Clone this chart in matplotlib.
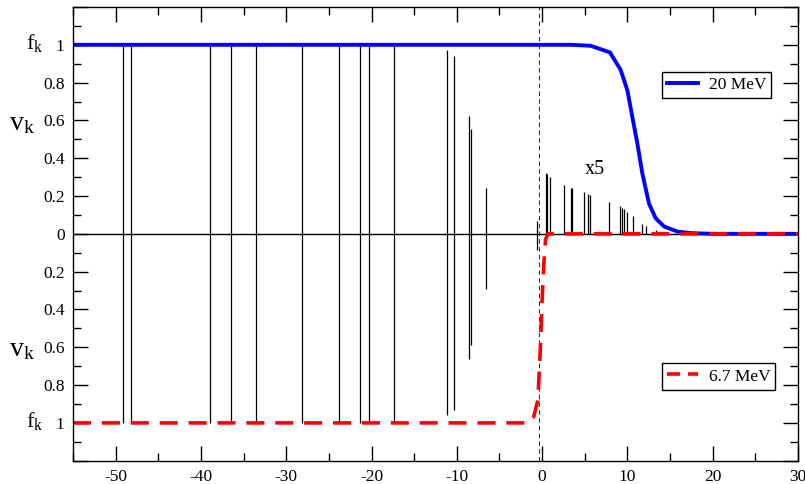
import matplotlib
matplotlib.use("Agg")
import matplotlib.pyplot as plt
from matplotlib.ticker import MultipleLocator, FuncFormatter
from matplotlib.lines import Line2D

plt.rcParams["font.family"] = ["Liberation Serif", "DejaVu Serif"]
plt.rcParams["mathtext.fontset"] = "stix"
plt.rcParams["axes.unicode_minus"] = False

# single-particle energies (MeV) of the bound levels
e_levels = [-49.1, -48.2, -38.96, -36.42, -33.52, -28.2, -23.78, -21.31, -20.26,
            -17.32, -11.14, -10.32, -8.56, -8.32, -6.61, -0.62]
# v_k for 20 MeV (plotted upward)
vk_20 = [1.0, 1.0, 1.0, 1.0, 1.0, 1.0, 1.0, 1.0, 1.0,
         1.0, 0.97, 0.94, 0.626, 0.555, 0.242, 0.07]
# v_k for 6.7 MeV (plotted downward)
vk_67 = [1.0, 1.0, 1.0, 1.0, 1.0, 1.0, 1.0, 1.0, 1.0,
         1.0, 0.96, 0.93, 0.66, 0.59, 0.29, 0.085]

# continuum levels (x5 scaled), 20 MeV
e_cont = [0.40, 0.52, 0.90, 2.59, 3.42, 3.53, 4.86, 5.33, 5.60, 7.83,
          9.17, 9.40, 9.59, 9.99, 10.61, 11.67, 12.14, 13.31, 13.51]
vk_cont = [0.32, 0.315, 0.30, 0.26, 0.24, 0.24, 0.22, 0.21, 0.207, 0.17,
           0.145, 0.136, 0.13, 0.118, 0.095, 0.053, 0.039, 0.018, 0.012]

# occupation f_k, 20 MeV
fk20_x = [-55, 3.33, 5.68, 7.95, 9.2, 9.99, 10.57, 11.16, 11.75, 12.53,
          13.31, 14.29, 15.86, 17.4, 20, 30]
fk20_y = [1.0, 1.0, 0.995, 0.96, 0.868, 0.76, 0.62, 0.48, 0.32, 0.16,
          0.083, 0.039, 0.012, 0.004, 0.0, 0.0]

# occupation f_k, 6.7 MeV (plotted downward)
fk67_x = [-55, -1.6, -1.0, -0.5, -0.2, 0.0, 0.2, 0.4, 0.7, 30]
fk67_y = [1.0, 1.0, 0.97, 0.88, 0.6, 0.35, 0.16, 0.03, 0.0, 0.0]

e_fermi = -0.35

fig = plt.figure(figsize=(8.05, 4.84), dpi=100)
ax = fig.add_axes([73 / 805, 1 - 460.7 / 484, 725 / 805, 453.7 / 484])

ax.vlines(e_levels, 0, vk_20, color="k", lw=0.9)
ax.vlines(e_levels, [-v for v in vk_67], 0, color="k", lw=0.9)
ax.vlines(e_cont, 0, vk_cont, color="k", lw=0.9)
ax.axhline(0, color="k", lw=1.0)
ax.axvline(e_fermi, color="k", lw=0.8, ls=(0, (4, 3)), alpha=0.8)

blue, = ax.plot(fk20_x, fk20_y, color="#0000ff", lw=2.8, solid_joinstyle="round")
ax.plot(fk67_x, [-v for v in fk67_y], color="#ff0000", lw=2.6, dashes=(5, 3))
# legend proxy with shorter dashes so two dashes show in the key
red_key = Line2D([], [], color="#ff0000", lw=2.6, dashes=(3.6, 2.2))

ax.text(6.2, 0.34, "x5", fontsize=14.5, ha="center", va="center")

ax.set_xlim(-55, 30)
ax.set_ylim(-1.2, 1.2)
ax.xaxis.set_major_locator(MultipleLocator(10))
ax.xaxis.set_minor_locator(MultipleLocator(5))
ax.yaxis.set_major_locator(MultipleLocator(0.2))
ax.yaxis.set_minor_locator(MultipleLocator(0.1))


def ylab(v, pos):
    a = abs(v)
    if a < 1e-9:
        return "0"
    if abs(a - 1) < 1e-9:
        return "1"
    if a > 1.05:
        return ""
    return f"{a:.1f}"


ax.yaxis.set_major_formatter(FuncFormatter(ylab))
ax.tick_params(which="both", direction="in", top=True, right=True, width=1,
               labelsize=12.5)
ax.tick_params(which="major", length=11)
ax.tick_params(which="minor", length=6)
ax.tick_params(axis="y", pad=6)
ax.tick_params(axis="x", pad=6)
for s in ax.spines.values():
    s.set_linewidth(1.0)

# f_k / v_k labels
fig.text(26 / 805, 1 - 43 / 484, r"$\mathregular{f_k}$", fontsize=16, va="center")
fig.text(9 / 805, 1 - 124 / 484, r"$\mathregular{v_k}$", fontsize=20, va="center")
fig.text(9 / 805, 1 - 350 / 484, r"$\mathregular{v_k}$", fontsize=20, va="center")
fig.text(26 / 805, 1 - 421 / 484, r"$\mathregular{f_k}$", fontsize=16, va="center")

leg_kw = dict(loc="upper left", fancybox=False, edgecolor="k", framealpha=1,
              fontsize=12.5, handlelength=1.8, borderpad=0.3, handletextpad=0.6,
              borderaxespad=0)
leg1 = ax.legend([blue], ["20 MeV"], bbox_to_anchor=(0.812, 0.857), **leg_kw)
leg1.get_frame().set_linewidth(1.0)
ax.add_artist(leg1)
leg2 = ax.legend([red_key], ["6.7 MeV"], bbox_to_anchor=(0.812, 0.215), **leg_kw)
leg2.get_frame().set_linewidth(1.0)

fig.savefig("out.png", dpi=100)
